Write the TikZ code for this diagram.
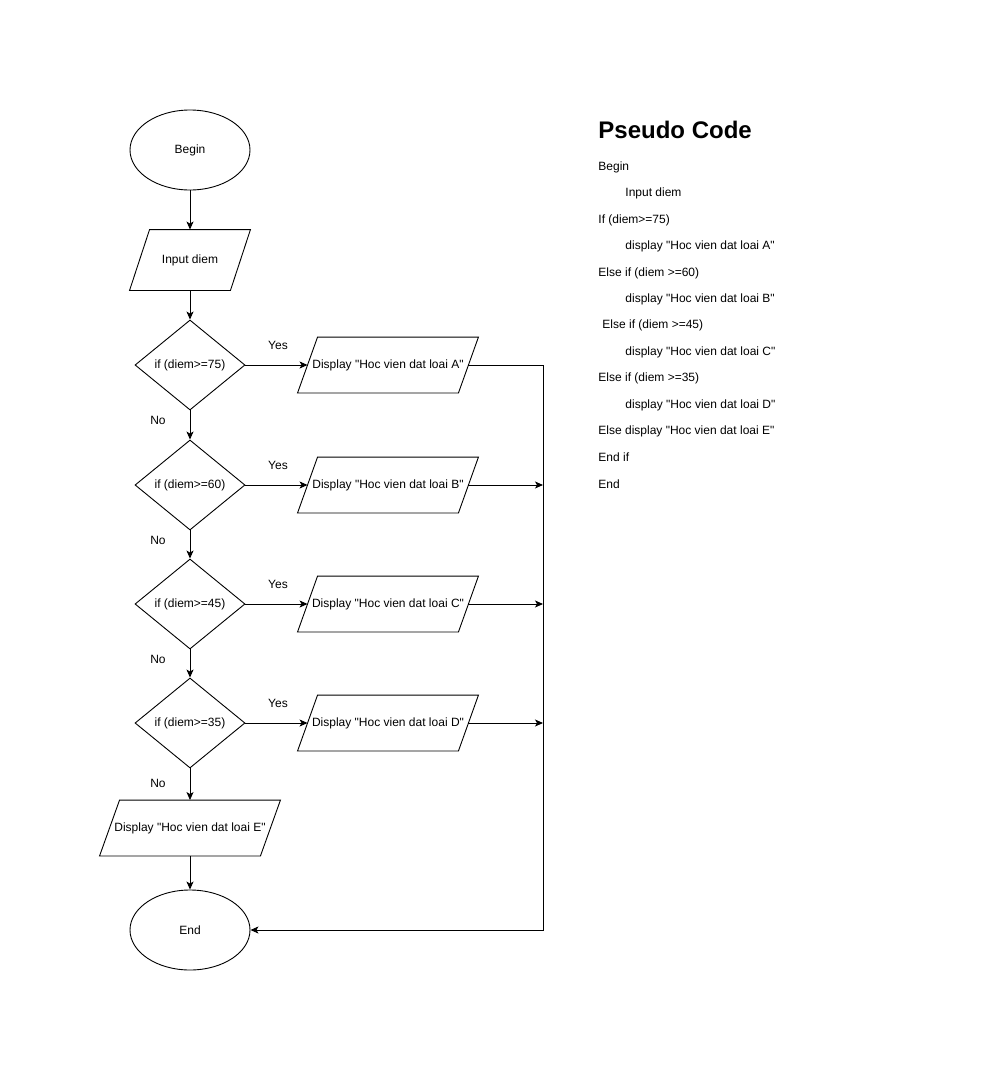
\documentclass[tikz,border=0pt]{standalone}
\usepackage{fontspec}
\setmainfont{Liberation Sans}[Ligatures=TeXOff]
\usetikzlibrary{shapes.geometric,arrows.meta,calc}
\begin{document}
\begin{tikzpicture}[x=1pt,y=-1pt,
  font=\fontsize{12}{14}\selectfont,
  line width=0.9pt,
  arr/.style={-{Stealth[length=8pt,width=7pt,inset=2pt]}},
  term/.style={ellipse,draw,minimum width=120pt,minimum height=80pt,inner sep=0pt},
  dec/.style={diamond,draw,minimum width=110pt,minimum height=90pt,inner sep=0pt},
  iobox/.style={rectangle,draw=none,minimum width=160pt,minimum height=55pt,inner sep=0pt},
  lbl/.style={inner sep=0pt},
  code/.style={anchor=west,inner sep=0pt}]
\useasboundingbox (0,0) rectangle (994,1071);
\newcommand{\paraline}[2]{\draw ($(#1.north west)+(#2,0)$) -- ($(#1.north east)+(#2,0)$) -- ($(#1.south east)+(-#2,0)$) -- ($(#1.south west)+(-#2,0)$) -- cycle;}

\node[term] (begin) at (190,150) {Begin};
\node[iobox,minimum width=100pt,minimum height=60pt] (input) at (190,260) {Input diem};
\paraline{input}{10}
\node[dec] (d1) at (190,365) {if (diem>=75)};
\node[dec] (d2) at (190,485) {if (diem>=60)};
\node[dec] (d3) at (190,604) {if (diem>=45)};
\node[dec] (d4) at (190,723) {if (diem>=35)};
\node[iobox] (pa) at (388,365) {Display "Hoc vien dat loai A"};
\node[iobox] (pb) at (388,485) {Display "Hoc vien dat loai B"};
\node[iobox] (pc) at (388,604) {Display "Hoc vien dat loai C"};
\node[iobox] (pd) at (388,723) {Display "Hoc vien dat loai D"};
\node[iobox] (pe) at (190,828) {Display "Hoc vien dat loai E"};
\paraline{pa}{10}
\paraline{pb}{10}
\paraline{pc}{10}
\paraline{pd}{10}
\paraline{pe}{10}
\node[term] (end) at (190,930) {End};
\coordinate (R) at (543,930);

\draw[arr] (begin) -- (input);
\draw[arr] (input) -- (d1);
\draw[arr] (d1) -- (d2);
\draw[arr] (d2) -- (d3);
\draw[arr] (d3) -- (d4);
\draw[arr] (d4) -- (pe);
\draw[arr] (pe) -- (end);
\draw[arr] (d1.east) -- (pa.west);
\draw[arr] (d2.east) -- (pb.west);
\draw[arr] (d3.east) -- (pc.west);
\draw[arr] (d4.east) -- (pd.west);
\draw[arr] (pa.east) -| (R) -- (end.east);
\draw[arr] (pb.east) -- (pb.east -| R);
\draw[arr] (pc.east) -- (pc.east -| R);
\draw[arr] (pd.east) -- (pd.east -| R);

\node[lbl] (y1) at (278,345) {Yes};
\node[lbl] (y2) at (278,465) {Yes};
\node[lbl] (y3) at (278,584) {Yes};
\node[lbl] (y4) at (278,703) {Yes};
\node[lbl] (n1) at (158,420) {No};
\node[lbl] (n2) at (158,540) {No};
\node[lbl] (n3) at (158,659) {No};
\node[lbl] (n4) at (158,783) {No};

\node[code,font=\fontsize{24}{28}\selectfont\bfseries] (title) at (598,130) {Pseudo Code};
\node[code] (c1) at (598,167) {Begin};
\node[code] (c2) at (625,193) {Input diem};
\node[code] (c3) at (598,220) {If (diem>=75)};
\node[code] (c4) at (625,246) {display "Hoc vien dat loai A"};
\node[code] (c5) at (598,273) {Else if (diem >=60)};
\node[code] (c6) at (625,299) {display "Hoc vien dat loai B"};
\node[code] (c7) at (602,325) {Else if (diem >=45)};
\node[code] (c8) at (625,352) {display "Hoc vien dat loai C"};
\node[code] (c9) at (598,378) {Else if (diem >=35)};
\node[code] (c10) at (625,405) {display "Hoc vien dat loai D"};
\node[code] (c11) at (598,431) {Else display "Hoc vien dat loai E"};
\node[code] (c12) at (598,457) {End if};
\node[code] (c13) at (598,484) {End};
\end{tikzpicture}
\end{document}
